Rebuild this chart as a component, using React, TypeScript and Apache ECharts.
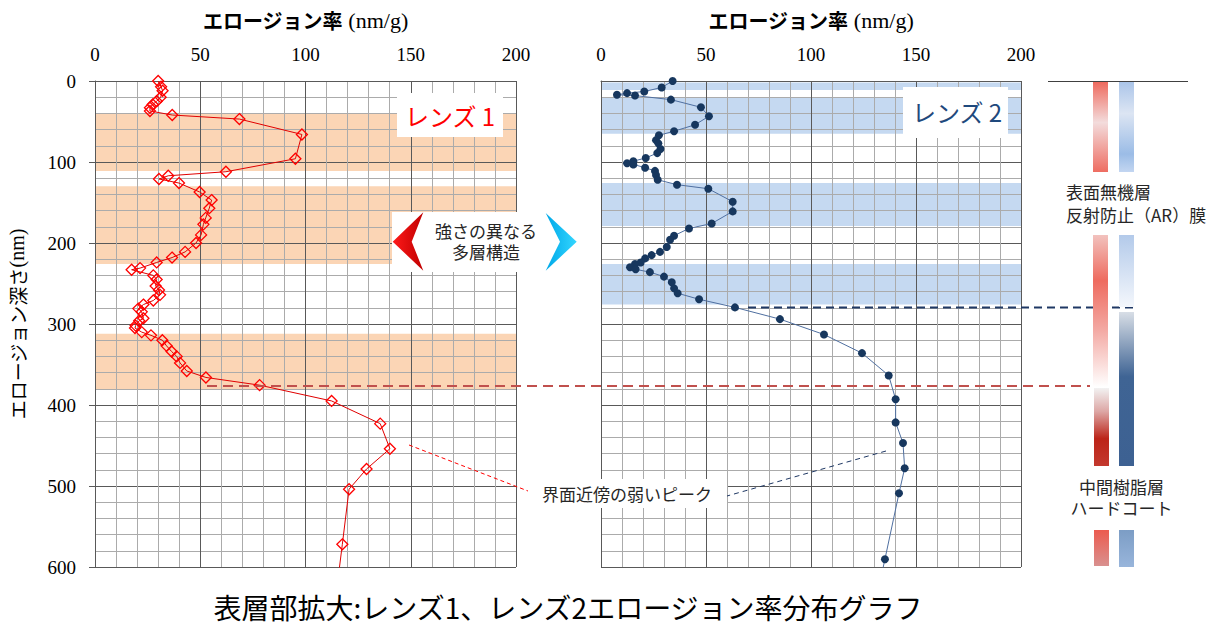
import React, { useEffect, useRef } from 'react';
import * as echarts from 'echarts';

// ---- data (rate nm/g, depth nm) ----
const lens1Rate = [30, 31.4, 32.1, 31.2, 29.3, 27.4, 26.1, 26.1, 36.7, 68.6, 98.3, 95.2, 62.2, 34.8, 30.4, 39.9, 49.7, 55.4, 54.3, 52.6, 51.5, 50.4, 48, 42.8, 36.6, 29.3, 21.4, 17.4, 27.7, 29.3, 28.8, 30.4, 30.9, 27.7, 23, 20.6, 22.2, 23, 21, 19.3, 19, 22.2, 26.6, 32, 34, 36.4, 38.8, 40.4, 43.6, 52.7, 78.2, 112.4, 135.5, 140.1, 129, 120.7, 117.5, 115.2];
const lens1Depth = [0, 7, 12, 20, 25, 29, 33, 37, 42, 47, 66, 96, 112, 117, 121, 126, 137, 147, 157, 169, 177, 190, 200, 211, 218, 224, 231, 233, 240, 245, 253, 258, 264, 271, 276, 281, 285, 293, 296, 302, 305, 310, 314, 320, 327, 334, 340, 348, 358, 366, 375.5, 395, 423, 454, 479, 504, 572, 620];

const lens2Rate = [34.1, 28.9, 20.6, 12.4, 7.6, 16.2, 33.3, 47.6, 51.4, 44.8, 34.8, 27.6, 26.2, 27.3, 28.3, 26.8, 21.3, 15.4, 12.4, 15.4, 21, 25.7, 26.2, 27, 36.2, 51.1, 62.7, 62.7, 52.7, 41.9, 34.8, 32.9, 31.3, 28.1, 24.1, 21, 18.9, 16.2, 13.8, 16.5, 23.3, 30, 33.7, 34.8, 36.5, 46.7, 63.8, 85.2, 106.2, 124.3, 137, 140.3, 140.3, 143.8, 144.6, 141.9, 135.2, 133.4];
const lens2Depth = [0, 8, 13, 15, 17, 18, 23, 32.5, 43.5, 54, 62, 67, 73, 77, 84, 89, 95, 99, 101.5, 103, 107, 111, 116, 122, 128, 133, 149, 161, 176, 182, 191, 196, 205, 211, 215, 219, 224, 226, 230, 232.5, 236, 241.5, 248.5, 256, 262, 269.5, 279.5, 294, 313, 336, 363.5, 393, 421.5, 447, 478, 509, 590.5, 612];

// depth ranges of the shaded layers
const lens1Bands = [[40, 111], [130, 226], [312, 381]];
const lens2Bands = [[2, 11], [21, 65], [126, 179], [226, 276]];

const rateMin = 0;
const rateMax = 200;
const rateInterval = 50;
const depthMin = 0;
const depthMax = 600;
const depthInterval = 100;

const xTitle = '{a|エロージョン率} {b|(nm/g)}';
const yTitle = '{a|エロージョン深さ}{b|(nm)}';
const lens1Label = 'レンズ 1';
const lens2Label = 'レンズ 2';
const chartTitle = '表層部拡大:レンズ1、レンズ2エロージョン率分布グラフ';

const JP = 'Noto Sans CJK JP';
const SERIF = 'Liberation Serif';

const serifLabel = {
  formatter: '{s|{value}}',
  rich: { s: { fontFamily: SERIF, fontSize: 19, color: '#000' } },
  fontFamily: SERIF,
  fontSize: 19,
  color: '#000',
};

function bandSeries(bands: number[][], gridIdx: number, color: string) {
  return {
    type: 'custom',
    xAxisIndex: gridIdx,
    yAxisIndex: gridIdx,
    z: -1,
    silent: true,
    encode: { x: [0, 2], y: [1, 3] },
    data: bands.map((b) => [rateMin, b[0], rateMax, b[1]]),
    renderItem: (params: any, api: any) => {
      const p0 = api.coord([api.value(0), api.value(1)]);
      const p1 = api.coord([api.value(2), api.value(3)]);
      return {
        type: 'rect',
        shape: { x: p0[0], y: p0[1], width: p1[0] - p0[0], height: p1[1] - p0[1] },
        style: { fill: color },
      };
    },
  };
}

function xAxis(gridIndex: number) {
  return {
    type: 'value',
    gridIndex,
    position: 'top',
    min: rateMin,
    max: rateMax,
    interval: rateInterval,
    name: xTitle,
    nameLocation: 'middle',
    nameGap: 50,
    nameTextStyle: {
      fontSize: 20,
      color: '#000',
      rich: {
        a: { fontFamily: JP, fontWeight: 'bold', fontSize: 20, color: '#000' },
        b: { fontFamily: SERIF, fontSize: 22, color: '#000' },
      },
    },
    axisLine: { show: true, lineStyle: { color: '#595959', width: 1 } },
    axisTick: { show: false },
    axisLabel: { ...serifLabel, margin: 17 },
    splitLine: { show: true, lineStyle: { color: '#595959', width: 1 } },
    minorTick: { show: false, splitNumber: 5 },
    minorSplitLine: { show: true, lineStyle: { color: '#ABABAB', width: 1 } },
  };
}

function yAxis(gridIndex: number) {
  const first = gridIndex === 0;
  return {
    type: 'value',
    gridIndex,
    inverse: true,
    min: depthMin,
    max: depthMax,
    interval: depthInterval,
    name: first ? yTitle : '',
    nameLocation: 'middle',
    nameGap: 68,
    nameRotate: 90,
    nameTextStyle: {
      fontSize: 19,
      color: '#000',
      rich: {
        a: { fontFamily: JP, fontSize: 19, color: '#000' },
        b: { fontFamily: SERIF, fontSize: 20, color: '#000' },
      },
    },
    axisLine: { show: true, lineStyle: { color: '#595959', width: 1 } },
    axisTick: { show: first, length: 6, lineStyle: { color: '#595959' } },
    axisLabel: { ...serifLabel, show: first, margin: 19 },
    splitLine: { show: true, lineStyle: { color: '#595959', width: 1 } },
    minorTick: { show: false, splitNumber: 5 },
    minorSplitLine: { show: true, lineStyle: { color: '#ABABAB', width: 1 } },
  };
}

function grad(stops: [number, string][]) {
  return new echarts.graphic.LinearGradient(0, 0, 0, 1, stops.map(([offset, color]) => ({ offset, color })));
}

function bar(x: number, y: number, h: number, stops: [number, string][]) {
  return { type: 'rect', z: 100, shape: { x, y, width: 15, height: h }, style: { fill: grad(stops) } };
}

function txt(text: string, x: number, y: number, size: number, fill: string, align = 'center', lineHeight = size) {
  return {
    type: 'text',
    z: 101,
    x,
    y,
    style: {
      text,
      fontSize: size,
      fontFamily: JP,
      lineHeight,
      fill,
      textAlign: align,
      textVerticalAlign: 'middle',
      align,
      verticalAlign: 'middle',
    },
  };
}

export default function App() {
  const ref = useRef<HTMLDivElement>(null);

  useEffect(() => {
    if (!ref.current) return;
    const chart = echarts.init(ref.current, undefined, { renderer: 'svg' });

    const graphics: any[] = [
      // label boxes
      { type: 'rect', z: 100, shape: { x: 397, y: 93, width: 106, height: 44 }, style: { fill: '#fff' } },
      txt(lens1Label, 450, 115, 24, '#FF0000'),
      { type: 'rect', z: 100, shape: { x: 903, y: 87, width: 105, height: 51 }, style: { fill: '#fff' } },
      txt(lens2Label, 957, 111, 24, '#1F497D'),
      // callout box with arrows
      { type: 'rect', z: 100, shape: { x: 392, y: 212, width: 188, height: 60 }, style: { fill: '#fff' } },
      {
        type: 'polygon', z: 101,
        shape: { points: [[392.7, 241.7], [423.3, 212.3], [411.7, 241.7], [423.3, 270.7]] },
        style: { fill: new echarts.graphic.LinearGradient(0, 0, 1, 0, [{ offset: 0, color: '#FF1A1A' }, { offset: 1, color: '#C00000' }]) },
      },
      {
        type: 'polygon', z: 101,
        shape: { points: [[576.7, 241.7], [545.7, 213], [560, 241.7], [545.7, 270.7]] },
        style: { fill: new echarts.graphic.LinearGradient(0, 0, 1, 0, [{ offset: 0, color: '#00A8E8' }, { offset: 1, color: '#33D6FF' }]) },
      },
      txt('強さの異なる\n多層構造', 486, 240.5, 17, '#262626', 'center', 21),
      // horizontal dashed guide lines
      { type: 'line', z: 99, shape: { x1: 748, y1: 307.5, x2: 1133, y2: 307.5 }, style: { stroke: '#1F3864', lineWidth: 2.2, lineDash: [8, 5] } },
      { type: 'line', z: 99, shape: { x1: 207, y1: 386, x2: 1090, y2: 386 }, style: { stroke: '#C0504D', lineWidth: 2.2, lineDash: [10, 6] } },
      // weak peak callout
      { type: 'line', z: 99, shape: { x1: 409, y1: 445, x2: 528, y2: 491 }, style: { stroke: '#FF0000', lineWidth: 1, lineDash: [4, 3] } },
      { type: 'line', z: 99, shape: { x1: 886, y1: 451, x2: 727, y2: 496 }, style: { stroke: '#1F3864', lineWidth: 1, lineDash: [5, 4] } },
      { type: 'rect', z: 100, shape: { x: 528, y: 479, width: 199, height: 29 }, style: { fill: '#fff' } },
      txt('界面近傍の弱いピーク', 627, 493, 17, '#262626'),
      // right-side layer legend
      { type: 'line', z: 100, shape: { x1: 1048, y1: 81.5, x2: 1188, y2: 81.5 }, style: { stroke: '#404040', lineWidth: 1 } },
      bar(1093, 82, 90, [[0, '#EE6A5E'], [0.45, '#F3DCDC'], [1, '#EE6D62']]),
      bar(1119, 82, 90, [[0, '#ABC5E9'], [0.35, '#DCE5F3'], [0.8, '#9BBCE6'], [1, '#C3D6F1']]),
      txt('表面無機層\n反射防止（AR）膜', 1066, 203, 17, '#262626', 'left', 22.5),
      bar(1093, 235, 152, [[0, '#F2C2BE'], [0.3, '#EE6B5F'], [0.62, '#F3A8A2'], [1, '#FFFFFF']]),
      bar(1094, 388, 78, [[0, '#F2F2F2'], [0.3, '#DDA7A5'], [0.65, '#BC2418'], [1, '#C3392E']]),
      bar(1119, 235, 72, [[0, '#B3CAEA'], [1, '#F4F7FC']]),
      bar(1119, 312, 154, [[0, '#D8DEE6'], [0.42, '#3F6494'], [1, '#3D6192']]),
      txt('中間樹脂層\nハードコート', 1121.5, 497, 17, '#262626', 'center', 20.5),
      bar(1094, 530, 36, [[0, '#EC5B4F'], [1, '#D9918F']]),
      bar(1119, 530, 37, [[0, '#7C9DC5'], [1, '#98B5DB']]),
      // title
      txt(chartTitle, 568, 607, 28, '#000'),
    ];

    chart.setOption({
      animation: false,
      grid: [
        { left: 95, top: 81, width: 421, height: 486 },
        { left: 601, top: 81, width: 420, height: 486 },
      ],
      xAxis: [xAxis(0), xAxis(1)],
      yAxis: [yAxis(0), yAxis(1)],
      series: [
        bandSeries(lens1Bands, 0, '#FBD5B5'),
        bandSeries(lens2Bands, 1, '#C5D9F1'),
        {
          type: 'line',
          name: lens1Label,
          xAxisIndex: 0,
          yAxisIndex: 0,
          z: 3,
          clip: true,
          data: lens1Rate.map((r, i) => [r, lens1Depth[i]]),
          symbol: 'diamond',
          symbolSize: 11,
          showSymbol: true,
          itemStyle: { color: 'rgba(255,255,255,0)', borderColor: '#FF0000', borderWidth: 1.3 },
          lineStyle: { color: '#E00000', width: 1 },
        },
        {
          type: 'line',
          name: lens2Label,
          xAxisIndex: 1,
          yAxisIndex: 1,
          z: 3,
          clip: true,
          data: lens2Rate.map((r, i) => [r, lens2Depth[i]]),
          symbol: 'circle',
          symbolSize: 8,
          showSymbol: true,
          itemStyle: { color: '#17375E' },
          lineStyle: { color: '#4F6FA0', width: 1 },
        },
      ],
      graphic: graphics,
    });

    return () => chart.dispose();
  }, []);

  return (
    <div
      ref={ref}
      style={{ position: 'fixed', left: 0, top: 0, width: 1219, height: 630, background: '#fff' }}
    />
  );
}
